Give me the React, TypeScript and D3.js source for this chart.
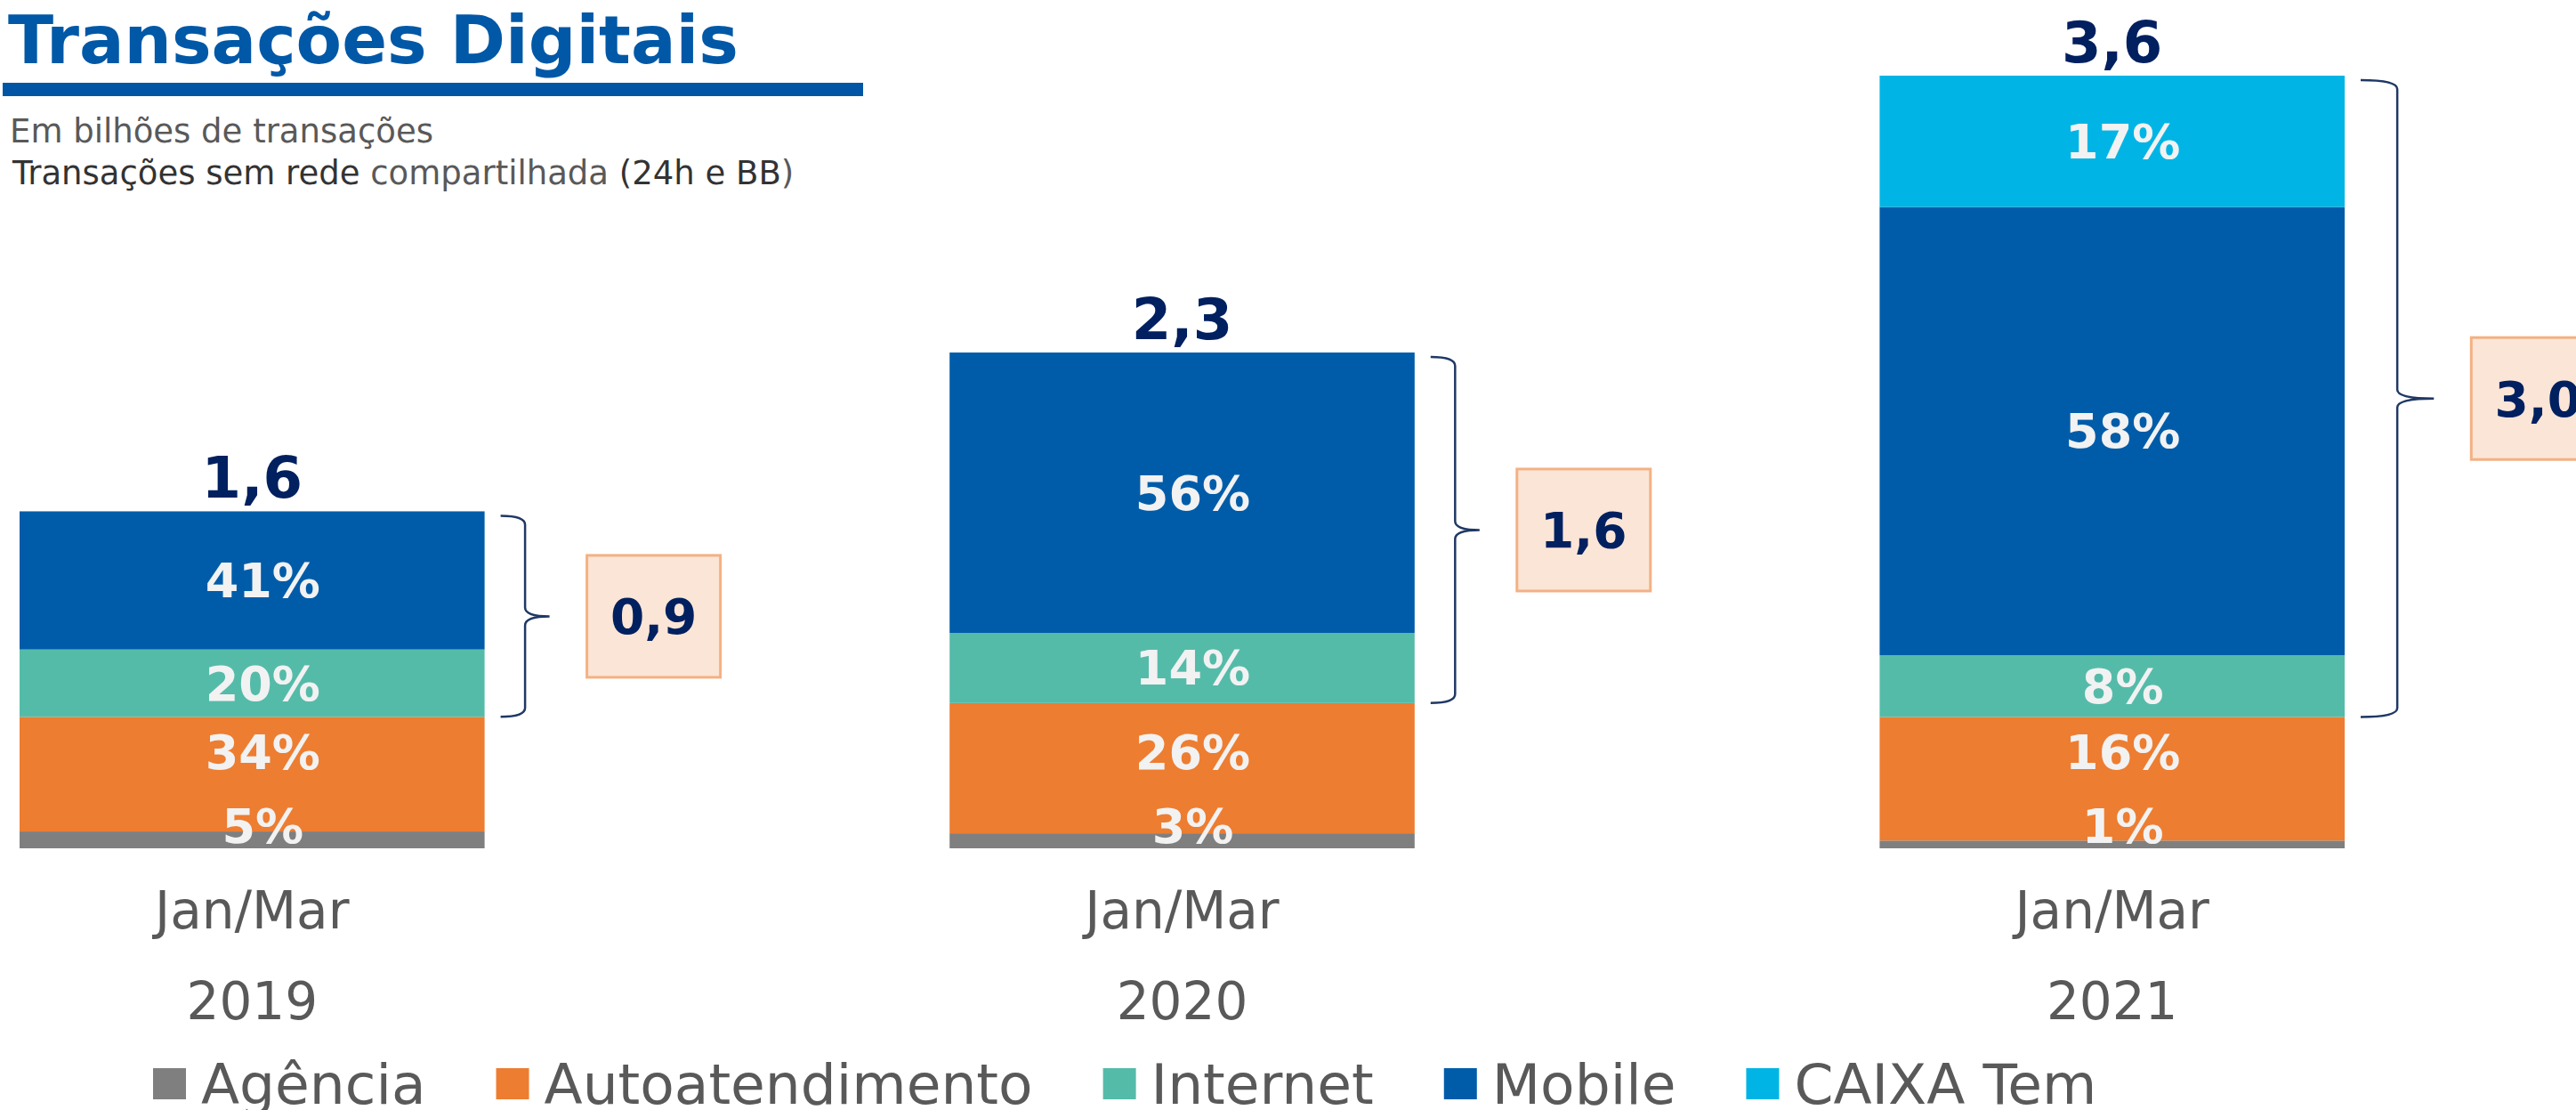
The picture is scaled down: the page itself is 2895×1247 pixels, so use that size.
import React, { useEffect, useRef } from "react";
import * as d3 from "d3";

// Transações digitais, Jan/Mar de cada ano, em bilhões

const categories = ["2019", "2020", "2021"];
const periodLabel = "Jan/Mar";
const seriesNames = ["Agência", "Autoatendimento", "Internet", "Mobile", "CAIXA Tem"];
const seriesColors = ["#7F7F7F", "#ED7D31", "#55BBA9", "#005CA9", "#00B5E5"];
const totals = [1.57, 2.31, 3.6];
const totalLabels = ["1,6", "2,3", "3,6"];
const agenciaShare = [5, 3, 1];
const autoShare = [34, 26, 16];
const internetShare = [20, 14, 8];
const mobileShare = [41, 56, 58];
const caixaTemShare = [0, 0, 17];
const digitalLabels = ["0,9", "1,6", "3,0"];

const W = 2895;
const H = 1247;
const FONT = "'DejaVu Sans', Verdana, sans-serif";

const App = () => {
    const svgRef = useRef<SVGSVGElement>(null);

    useEffect(() => {
        const svg = d3.select(svgRef.current);
        svg.selectAll("*").remove();

        const shares = [agenciaShare, autoShare, internetShare, mobileShare, caixaTemShare];
        const rows = categories.map((c, i) => {
            const sum = d3.sum(shares, s => s[i]);
            const row: any = { category: c, i };
            seriesNames.forEach((n, k) => { row[n] = totals[i] * shares[k][i] / sum; });
            return row;
        });

        const stacked = d3.stack().keys(seriesNames)(rows);

        const x = d3.scaleBand()
            .domain(categories)
            .range([22, 2635])
            .paddingInner(0.5)
            .paddingOuter(0);

        const y = d3.scaleLinear()
            .domain([0, d3.max(totals)])
            .range([953, 85]);

        // title
        svg.append("text")
            .attr("x", 9).attr("y", 71)
            .attr("font-family", FONT).attr("font-weight", "bold")
            .attr("font-size", 75).attr("fill", "#0058A7")
            .text("Transações Digitais");
        svg.append("rect")
            .attr("x", 3).attr("y", 93).attr("width", 967).attr("height", 15)
            .attr("fill", "#0055A5");
        svg.append("text")
            .attr("x", 11).attr("y", 160)
            .attr("font-family", FONT).attr("font-size", 37).attr("fill", "#595959")
            .text("Em bilhões de transações");
        const sub = svg.append("text")
            .attr("x", 14).attr("y", 207)
            .attr("font-family", FONT).attr("font-size", 37);
        sub.append("tspan").attr("fill", "#333333").text("Transações sem rede ");
        sub.append("tspan").attr("fill", "#595959").text("compartilhada ");
        sub.append("tspan").attr("fill", "#333333").text("(24h e BB");
        sub.append("tspan").attr("fill", "#595959").text(")");

        // stacked bars
        const layers = svg.append("g")
            .selectAll("g")
            .data(stacked)
            .join("g")
            .attr("fill", (d, k) => seriesColors[k]);

        layers.selectAll("rect")
            .data(d => d.filter(p => p[1] - p[0] > 0))
            .join("rect")
            .attr("x", (p: any) => x(p.data.category))
            .attr("y", p => y(p[1]))
            .attr("width", x.bandwidth())
            .attr("height", p => y(p[0]) - y(p[1]));

        // percentage labels
        const cx = (c: string) => (x(c) as number) + x.bandwidth() / 2;
        stacked.forEach((layer, k) => {
            layer.forEach((p: any) => {
                const i = p.data.i;
                const share = shares[k][i];
                if (!share) return;
                let baseline;
                if (k === 0) {
                    baseline = y(0) - 6;
                } else {
                    let center = (y(p[0]) + y(p[1])) / 2;
                    if (k === 1) center = Math.min(center, y(0) - 108);
                    baseline = center + 19;
                }
                svg.append("text")
                    .attr("x", cx(p.data.category) + 12)
                    .attr("y", baseline)
                    .attr("text-anchor", "middle")
                    .attr("font-family", FONT).attr("font-weight", "bold")
                    .attr("font-size", 54).attr("fill", "#F2F2F2")
                    .text(`${share}%`);
            });
        });

        // totals above bars
        svg.append("g")
            .selectAll("text")
            .data(categories)
            .join("text")
            .attr("x", c => cx(c))
            .attr("y", (c, i) => y(totals[i]) - 15)
            .attr("text-anchor", "middle")
            .attr("font-family", FONT).attr("font-weight", "bold")
            .attr("font-size", 64).attr("fill", "#002060")
            .text((c, i) => totalLabels[i]);

        // braces around digital channels and their totals
        categories.forEach((c, i) => {
            const top = y(totals[i]) + 5;
            const autoTop = y(stacked[1][i][1]);
            const h = autoTop - top;
            const right = (x(c) as number) + x.bandwidth();
            const lx = right + 18;
            const bw = Math.max(55, h * 0.115);
            const sx = lx + bw / 2;
            const tx = lx + bw;
            const ym = (top + autoTop) / 2;
            const r = 10;
            const path = d3.path();
            path.moveTo(lx, top);
            path.quadraticCurveTo(sx, top, sx, top + r);
            path.lineTo(sx, ym - r);
            path.quadraticCurveTo(sx, ym, tx, ym);
            path.quadraticCurveTo(sx, ym, sx, ym + r);
            path.lineTo(sx, autoTop - r);
            path.quadraticCurveTo(sx, autoTop, lx, autoTop);
            svg.append("path")
                .attr("d", path.toString())
                .attr("fill", "none")
                .attr("stroke", "#1F3864")
                .attr("stroke-width", 2.5);

            const bx = tx + 42;
            svg.append("rect")
                .attr("x", bx).attr("y", ym - 68.5)
                .attr("width", 150).attr("height", 137)
                .attr("fill", "#FBE5D6")
                .attr("stroke", "#F4B183").attr("stroke-width", 3);
            svg.append("text")
                .attr("x", bx + 75).attr("y", ym + 20)
                .attr("text-anchor", "middle")
                .attr("font-family", FONT).attr("font-weight", "bold")
                .attr("font-size", 55).attr("fill", "#002060")
                .text(digitalLabels[i]);
        });

        // category labels
        const cat = svg.append("g")
            .selectAll("g")
            .data(categories)
            .join("g")
            .attr("font-family", FONT).attr("font-size", 58)
            .attr("fill", "#595959").attr("text-anchor", "middle");
        cat.append("text").attr("x", c => cx(c)).attr("y", 1043).text(periodLabel);
        cat.append("text").attr("x", c => cx(c)).attr("y", 1145).text(c => c);

        // legend
        let lx = 172;
        seriesNames.forEach((n, k) => {
            svg.append("rect")
                .attr("x", lx).attr("y", 1200)
                .attr("width", 37).attr("height", 35)
                .attr("fill", seriesColors[k]);
            const t = svg.append("text")
                .attr("x", lx + 54).attr("y", 1240)
                .attr("font-family", FONT).attr("font-size", 63)
                .attr("fill", "#595959")
                .text(n);
            const tw = (t.node() as SVGTextElement).getComputedTextLength();
            lx += 54 + tw + 79;
        });
    }, []);

    return (
        <svg
            ref={svgRef}
            width={W}
            height={H}
            style={{ position: "absolute", left: 0, top: 0, display: "block", background: "#fff" }}
        ></svg>
    );
};

export default App;
